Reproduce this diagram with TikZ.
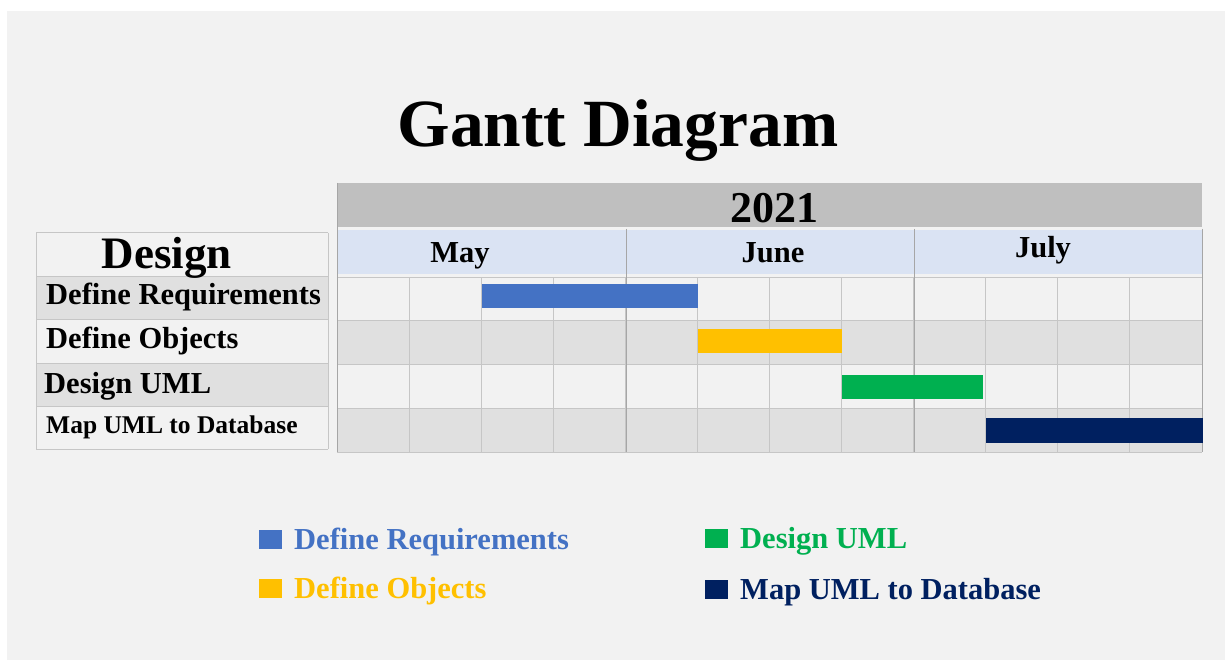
\documentclass[tikz,border=0pt]{standalone}
\usepackage{fontspec}
\setmainfont{Liberation Serif}
\usepackage{tikz}

\definecolor{pagebg}{HTML}{F2F2F2}
\definecolor{yearbar}{HTML}{BFBFBF}
\definecolor{monthbar}{HTML}{DAE3F3}
\definecolor{rowdark}{HTML}{E0E0E0}
\definecolor{gridline}{HTML}{C6C6C6}
\definecolor{monthline}{HTML}{A6A6A6}
\definecolor{reqblue}{HTML}{4472C4}
\definecolor{objyellow}{HTML}{FFC000}
\definecolor{umlgreen}{HTML}{00B050}
\definecolor{mapnavy}{HTML}{002060}

\begin{document}
\begin{tikzpicture}[x=1pt, y=-1pt,
        txt/.style={inner sep=0pt, font=\bfseries\fontsize{30.5}{36}\selectfont},
        task/.style={txt, anchor=base west},
        month/.style={txt, anchor=base},
        keybox/.style={draw=none, minimum width=23pt, minimum height=19pt, inner sep=0pt},
        cell/.style={gridline, line width=1pt}]
    \useasboundingbox (0,0) rectangle (1225,660);
    \fill[white] (-5,-5) rectangle (1230,665);
    \fill[pagebg] (7,11) rectangle (1230,665);

    % title
    \node[inner sep=0pt, anchor=base, font=\bfseries\fontsize{67.5}{80}\selectfont] (title) at (618,147) {Gantt Diagram};

    % task table
    \fill[rowdark] (36,276) rectangle (328,319);
    \fill[rowdark] (36,363) rectangle (328,406);
    \foreach \y in {233,276,319,363,406,449}
        \draw[cell] (36,\y) -- (328,\y);
    \draw[cell] (36,233) -- (36,449);
    \draw[cell] (328,233) -- (328,449);

    \node[inner sep=0pt, anchor=base, font=\bfseries\fontsize{45}{54}\selectfont] (design) at (167,269) {Design};
    \node[task] (req) at (46,304) {Define Requirements};
    \node[task] (obj) at (46,348) {Define Objects};
    \node[task] (uml) at (44,393) {Design UML};
    \node[task, font=\bfseries\fontsize{25.5}{30}\selectfont] (map) at (46,433) {Map UML to Database};

    % header
    \fill[yearbar] (337,183) rectangle (1202,227);
    \fill[monthbar] (337,230) rectangle (1202,274);
    \node[inner sep=0pt, anchor=base, font=\bfseries\fontsize{44}{52}\selectfont] (year) at (774,223) {2021};
    \node[month] (may) at (460,262) {May};
    \node[month] (june) at (773,262) {June};
    \node[month] (july) at (1043,258) {July};

    % grid
    \fill[rowdark] (337,320) rectangle (1202,364);
    \fill[rowdark] (337,408) rectangle (1202,452);
    \foreach \y in {277,320,364,408,452}
        \draw[cell] (337,\y) -- (1202,\y);
    \foreach \i in {0,...,12}
        \draw[cell] (337+\i*72.083,277) -- (337+\i*72.083,452);
    \draw[monthline, line width=1pt] (626.3,229) -- (626.3,452);
    \draw[monthline, line width=1pt] (914,229) -- (914,452);
    \draw[monthline, line width=1pt] (337,183) -- (337,452);
    \draw[monthline, line width=1pt] (1202,229) -- (1202,452);

    % bars
    \fill[reqblue] (482,284) rectangle (698,308);
    \fill[objyellow] (698,329) rectangle (842,353);
    \fill[umlgreen] (842,375) rectangle (983,399);
    \fill[mapnavy] (986,418) rectangle (1203,443);

    % legend
    \node[keybox, fill=reqblue] (kreq) at (270.5,539.5) {};
    \node[keybox, fill=objyellow] (kobj) at (270.5,588.5) {};
    \node[keybox, fill=umlgreen] (kuml) at (716.5,538.5) {};
    \node[keybox, fill=mapnavy] (kmap) at (716.5,589.5) {};
    \node[task, text=reqblue] (lreq) at (294,549) {Define Requirements};
    \node[task, text=objyellow] (lobj) at (294,598) {Define Objects};
    \node[task, text=umlgreen] (luml) at (740,548) {Design UML};
    \node[task, text=mapnavy] (lmap) at (740,599) {Map UML to Database};
\end{tikzpicture}
\end{document}
